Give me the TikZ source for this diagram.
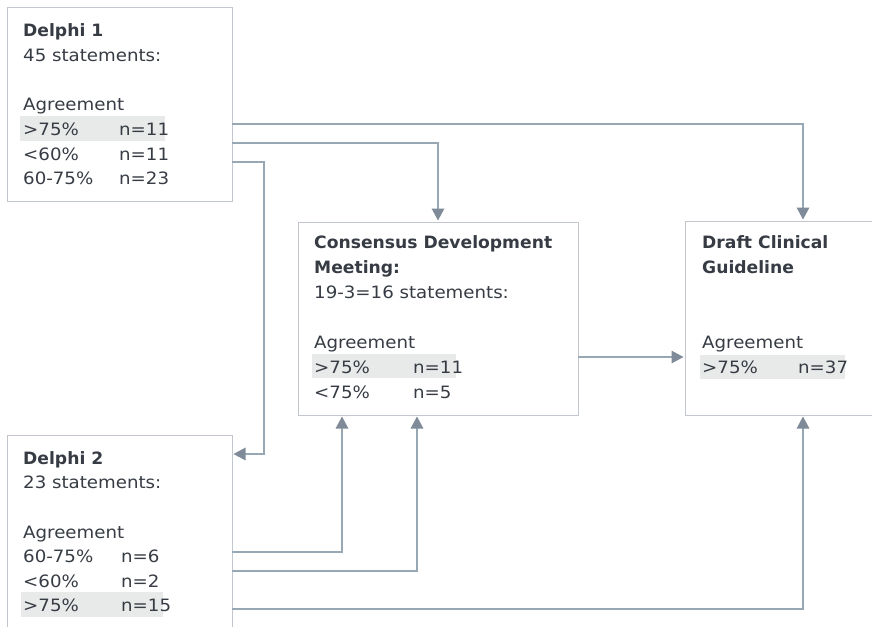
\documentclass[tikz,border=0pt]{standalone}
\usepackage{fontspec}
\setmainfont{DejaVu Sans}[FakeStretch=1.07]
\newfontfamily\headf{DejaVu Sans}[FakeStretch=1.01]
\usetikzlibrary{arrows.meta}
\definecolor{txt}{HTML}{373C44}
\definecolor{bordc}{HTML}{C2C7CD}
\definecolor{connc}{HTML}{98A7B4}
\definecolor{tipc}{HTML}{7F8B98}
\definecolor{hl}{HTML}{E8E9E9}
\begin{document}
\begin{tikzpicture}[x=1pt,y=-1pt,
  box/.style={draw=bordc, line width=0.9pt, inner sep=0pt, outer sep=0pt, anchor=north west},
  tx/.style={anchor=base west, inner sep=0pt, text=txt, font=\fontsize{17}{20}\selectfont},
  hd/.style={tx, font=\fontsize{17}{20}\headf\bfseries},
  conn/.style={draw=connc, line width=1.4pt, shorten >=1.5pt,
    -{Triangle[length=12pt,width=12.5pt,color=tipc]}}]
\useasboundingbox (0,0) rectangle (872,626);
\clip (0,0) rectangle (872,626);
\fill[white] (0,0) rectangle (872,626);

% highlight bars
\fill[hl] (20,116) rectangle (165,141);
\fill[hl] (21,592) rectangle (163,617);
\fill[hl] (312,354) rectangle (456,378);
\fill[hl] (700,355) rectangle (845,379);

% boxes
\node[box, minimum width=225pt, minimum height=194pt] (d1) at (7,7) {};
\node[box, minimum width=225pt, minimum height=195pt] (d2) at (7,435) {};
\node[box, minimum width=280pt, minimum height=193pt] (cons) at (298,222) {};
\node[box, minimum width=236pt, minimum height=194pt] (draft) at (685,221) {};

% Delphi 1 text
\node[hd] (d1t1) at (23,36.5) {Delphi 1};
\node[tx] (d1t2) at (23,61) {45 statements:};
\node[tx] (d1t3) at (23,110.5) {Agreement};
\node[tx] (d1a1) at (23,135.5) {>75\%};
\node[tx] (d1n1) at (119,135.5) {n=11};
\node[tx] (d1a2) at (23,160) {<60\%};
\node[tx] (d1n2) at (119,160) {n=11};
\node[tx] (d1a3) at (23,184.5) {60-75\%};
\node[tx] (d1n3) at (119,184.5) {n=23};

% Delphi 2 text
\node[hd] (d2t1) at (23,464) {Delphi 2};
\node[tx] (d2t2) at (23,488.5) {23 statements:};
\node[tx] (d2t3) at (23,538) {Agreement};
\node[tx] (d2a1) at (23,562.5) {60-75\%};
\node[tx] (d2n1) at (121,562.5) {n=6};
\node[tx] (d2a2) at (23,587) {<60\%};
\node[tx] (d2n2) at (121,587) {n=2};
\node[tx] (d2a3) at (23,611.5) {>75\%};
\node[tx] (d2n3) at (121,611.5) {n=15};

% Consensus text
\node[hd] (ct1) at (314,248) {Consensus Development};
\node[hd] (ct2) at (314,273) {Meeting:};
\node[tx] (ct3) at (314,298) {19-3=16 statements:};
\node[tx] (ct4) at (314,348) {Agreement};
\node[tx] (ca1) at (314,373) {>75\%};
\node[tx] (cn1) at (413,373) {n=11};
\node[tx] (ca2) at (314,398) {<75\%};
\node[tx] (cn2) at (413,398) {n=5};

% Draft text
\node[hd] (gt1) at (702,248) {Draft Clinical};
\node[hd] (gt2) at (702,273) {Guideline};
\node[tx] (gt3) at (702,348) {Agreement};
\node[tx] (ga1) at (702,373) {>75\%};
\node[tx] (gn1) at (798,373) {n=37};

% helper coordinates
\coordinate (y124) at (0,124);
\coordinate (y143) at (0,143);
\coordinate (y162) at (0,162);
\coordinate (k1) at (264,454);
\coordinate (y552) at (0,552);
\coordinate (y571) at (0,571);
\coordinate (y609) at (0,609);
\coordinate (y357) at (0,357);

% connectors
\draw[conn] (d1.east |- y124) -| (draft.north);
\draw[conn] (d1.east |- y143) -| (cons.north);
\draw[conn] (d1.east |- y162) -| (k1) -- (d2.east |- k1);
\draw[conn] (d2.east |- y552) -| ([xshift=-96pt]cons.south);
\draw[conn] (d2.east |- y571) -| ([xshift=-21pt]cons.south);
\draw[conn] (d2.east |- y609) -| (draft.south);
\draw[conn] (cons.east |- y357) -- (draft.west |- y357);
\end{tikzpicture}
\end{document}
